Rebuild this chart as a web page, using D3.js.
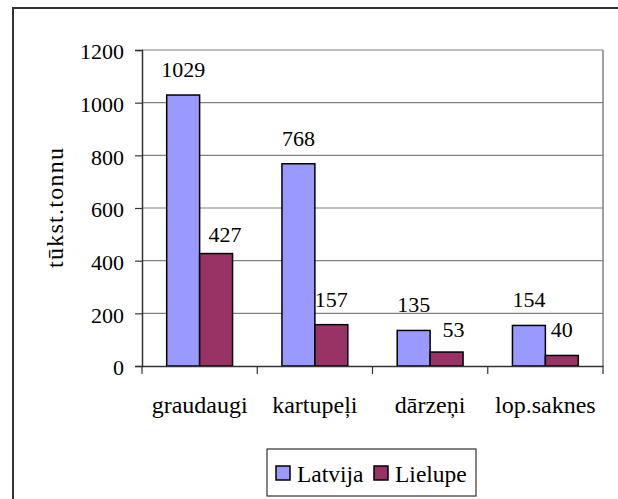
<!DOCTYPE html>
<html lang="lv">
<head>
<meta charset="utf-8">
<title>tūkst.tonnu</title>
<script src="https://d3js.org/d3.v7.min.js"></script>
<style>
  body { margin: 0; background: #fff; }
</style>
</head>
<body>
<script>
// data
var categories = ["graudaugi", "kartupeļi", "dārzeņi", "lop.saknes"];
var seriesNames = ["Latvija", "Lielupe"];
var latvija = [1029, 768, 135, 154];
var lielupe = [427, 157, 53, 40];
var yTicks = [0, 200, 400, 600, 800, 1000, 1200];
var yTitle = "tūkst.tonnu";

var colors = { "Latvija": "#9999ff", "Lielupe": "#993366" };
var FONT = "'Liberation Serif', serif";

var W = 618, H = 499;
var plot = { left: 142, right: 603, top: 50, bottom: 366 };

var svg = d3.select("body").append("svg")
  .attr("width", W)
  .attr("height", H);

// outer chart frame (runs off the page on right/bottom)
svg.append("rect")
  .attr("x", 13).attr("y", 8)
  .attr("width", 640).attr("height", 540)
  .attr("fill", "#fff")
  .attr("stroke", "#333").attr("stroke-width", 2);

var x0 = d3.scaleBand()
  .domain(categories)
  .range([plot.left, plot.right])
  .paddingInner(0).paddingOuter(0);

var x1 = d3.scaleBand()
  .domain(seriesNames)
  .range([0, x0.bandwidth()])
  .paddingInner(0).paddingOuter(0.75);

var y = d3.scaleLinear()
  .domain([0, 1200])
  .range([plot.bottom, plot.top]);

// gridlines
svg.append("g").selectAll("line")
  .data(yTicks.filter(function(d) { return d > 0; }))
  .enter().append("line")
  .attr("x1", plot.left).attr("x2", plot.right)
  .attr("y1", function(d) { return y(d); })
  .attr("y2", function(d) { return y(d); })
  .attr("stroke", "#808080").attr("stroke-width", 1.2);

// right border of plot area
svg.append("line")
  .attr("x1", plot.right).attr("x2", plot.right)
  .attr("y1", plot.top).attr("y2", plot.bottom)
  .attr("stroke", "#808080").attr("stroke-width", 1.5);

// y axis
var yAxis = d3.axisLeft(y).tickValues(yTicks).tickFormat(d3.format("d"))
  .tickSize(7).tickPadding(11);
var gy = svg.append("g")
  .attr("transform", "translate(" + plot.left + ",0)")
  .call(yAxis)
  .attr("font-family", FONT)
  .attr("font-size", 22);
gy.select(".domain").attr("stroke", "#333").attr("stroke-width", 1.5);
gy.selectAll(".tick line").attr("stroke", "#333").attr("stroke-width", 1.2);
gy.selectAll(".tick text")
  .attr("fill", "#000")
  .attr("dy", "0.4em");

// y axis title
svg.append("text")
  .attr("transform", "translate(63," + ((plot.top + plot.bottom) / 2) + ") rotate(-90)")
  .attr("text-anchor", "middle")
  .style("font-family", FONT)
  .style("font-size", "24px")
  .attr("textLength", 120)
  .attr("lengthAdjust", "spacing")
  .text(yTitle);

// bars
var rows = categories.map(function(c, i) {
  return { cat: c, values: [
    { name: "Latvija", value: latvija[i] },
    { name: "Lielupe", value: lielupe[i] }
  ] };
});

var groups = svg.append("g").selectAll("g")
  .data(rows)
  .enter().append("g")
  .attr("transform", function(d) { return "translate(" + x0(d.cat) + ",0)"; });

groups.selectAll("rect")
  .data(function(d) { return d.values; })
  .enter().append("rect")
  .attr("x", function(d) { return x1(d.name); })
  .attr("width", x1.bandwidth())
  .attr("y", function(d) { return y(d.value); })
  .attr("height", function(d) { return y(0) - y(d.value); })
  .attr("fill", function(d) { return colors[d.name]; })
  .attr("stroke", "#000").attr("stroke-width", 1.5);

// value labels (two were nudged aside in the original)
var nudge = { "graudaugi|Lielupe": [9, 6], "dārzeņi|Lielupe": [7, 3] };
groups.each(function(row) {
  d3.select(this).selectAll("text.val")
    .data(row.values)
    .enter().append("text")
    .attr("class", "val")
    .attr("text-anchor", "middle")
    .style("font-family", FONT)
    .style("font-size", "22px")
    .attr("x", function(d) {
      var n = nudge[row.cat + "|" + d.name] || [0, 0];
      return x1(d.name) + x1.bandwidth() / 2 + n[0];
    })
    .attr("y", function(d) {
      var n = nudge[row.cat + "|" + d.name] || [0, 0];
      return y(d.value) - 18 + n[1];
    })
    .text(function(d) { return d.value; });
});

// x axis
var xAxis = d3.axisBottom(x0).tickSize(0).tickPadding(0).tickFormat("");
var gx = svg.append("g")
  .attr("transform", "translate(0," + plot.bottom + ")")
  .call(xAxis);
gx.select(".domain").attr("stroke", "#333").attr("stroke-width", 1.5);
gx.selectAll(".tick").remove();

// tick marks at band edges
var edges = categories.map(function(c) { return x0(c); }).concat([x0.range()[1]]);
svg.append("g").selectAll("line")
  .data(edges)
  .enter().append("line")
  .attr("x1", function(d) { return d; }).attr("x2", function(d) { return d; })
  .attr("y1", plot.bottom).attr("y2", plot.bottom + 8)
  .attr("stroke", "#333").attr("stroke-width", 1.2);

svg.append("g").selectAll("text")
  .data(categories)
  .enter().append("text")
  .attr("x", function(d) { return x0(d) + x0.bandwidth() / 2; })
  .attr("y", plot.bottom + 47)
  .attr("text-anchor", "middle")
  .style("font-family", FONT)
  .style("font-size", "24px")
  .text(function(d) { return d; });

// legend
var legend = svg.append("g").attr("transform", "translate(267,449)");
legend.append("rect")
  .attr("width", 209).attr("height", 47)
  .attr("fill", "#fff").attr("stroke", "#333").attr("stroke-width", 1.2);

var items = legend.selectAll("g.item")
  .data(seriesNames)
  .enter().append("g")
  .attr("class", "item")
  .attr("transform", function(d, i) { return "translate(" + (9 + i * 98) + ",0)"; });

items.append("rect")
  .attr("y", 17).attr("width", 14).attr("height", 14)
  .attr("fill", function(d) { return colors[d]; })
  .attr("stroke", "#000").attr("stroke-width", 1.5);

items.append("text")
  .attr("x", 21).attr("y", 33)
  .style("font-family", FONT)
  .style("font-size", "23.5px")
  .text(function(d) { return d; });
</script>
</body>
</html>
